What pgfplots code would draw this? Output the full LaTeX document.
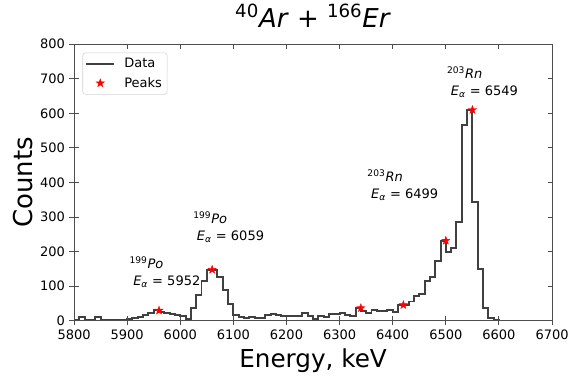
\documentclass[border=0pt]{standalone}
\usepackage{fontspec}
\setmainfont{DejaVu Sans}
\usepackage{pgfplots}
\pgfplotsset{compat=1.18}
\pgfdeclareplotmark{fstar}{%
  \pgfpathmoveto{\pgfpointpolar{90}{\pgfplotmarksize}}%
  \pgfpathlineto{\pgfpointpolar{126}{0.4*\pgfplotmarksize}}%
  \pgfpathlineto{\pgfpointpolar{162}{\pgfplotmarksize}}%
  \pgfpathlineto{\pgfpointpolar{198}{0.4*\pgfplotmarksize}}%
  \pgfpathlineto{\pgfpointpolar{234}{\pgfplotmarksize}}%
  \pgfpathlineto{\pgfpointpolar{270}{0.4*\pgfplotmarksize}}%
  \pgfpathlineto{\pgfpointpolar{306}{\pgfplotmarksize}}%
  \pgfpathlineto{\pgfpointpolar{342}{0.4*\pgfplotmarksize}}%
  \pgfpathlineto{\pgfpointpolar{18}{\pgfplotmarksize}}%
  \pgfpathlineto{\pgfpointpolar{54}{0.4*\pgfplotmarksize}}%
  \pgfpathclose
  \pgfusepathqfillstroke
}
\definecolor{linegray}{HTML}{404040}
\definecolor{framegray}{HTML}{4D4D4D}
\pgfplotsset{
  dataleg/.style={legend image code/.code={\draw[linegray, line width=1.5pt] (0pt,0pt) -- (21.5pt,0pt);}},
  peakleg/.style={legend image code/.code={\draw[##1] plot coordinates {(10.75pt,0pt)};}},
}
\pgfplotstableread{
x y
5800 2
5810 2
5820 12
5830 2
5840 2
5850 12
5860 2
5870 2
5880 2
5890 2
5900 3
5910 5
5920 8
5930 12
5940 16
5950 22
5960 30
5970 26
5980 22
5990 19
6000 16
6010 13
6020 4
6030 38
6040 75
6050 115
6060 148
6070 146
6080 128
6090 88
6100 50
6110 17
6120 12
6130 8
6140 10
6150 7
6160 9
6170 18
6180 21
6190 18
6200 15
6210 13
6220 13
6230 14
6240 23
6250 13
6260 4
6270 13
6280 11
6290 21
6300 21
6310 23
6320 17
6330 13
6340 37
6350 28
6360 23
6370 31
6380 28
6390 28
6400 31
6410 25
6420 46
6430 46
6440 56
6450 71
6460 78
6470 116
6480 128
6490 172
6500 232
6510 200
6520 212
6530 286
6540 565
6550 610
6560 344
6570 150
6580 37
6590 7
6600 2
6610 1
6620 0
6630 1
6640 1
6650 0
6660 1
6670 1
6680 0
6690 1
6700 0
}\datatable
\pgfplotstableread{
x y
5960 30
6060 148
6340 37
6420 46
6500 232
6550 610
}\peaktable
\begin{document}
\begin{tikzpicture}
\pgfplotsset{
  common/.style={
    width=368pt, height=213pt, scale only axis,
    xmin=5800, xmax=6700, ymin=0, ymax=800,
    xtick={5800,5900,...,6700}, ytick={0,100,...,800},
    major tick length=3.5pt,
    axis line style={framegray, line width=0.8pt},
    tick style={framegray, line width=0.8pt},
  }
}
\begin{axis}[common,
  xtick pos=bottom, ytick pos=left, tick align=outside,
  ticklabel style={font=\fontsize{10}{12}\selectfont, text=black},
  /pgf/number format/assume math mode=true,
  /pgf/number format/1000 sep={},
  xlabel={Energy, keV},
  ylabel={Counts},
  xlabel style={at={(axis description cs:0.5,-0.169)}, anchor=base, font=\fontsize{19}{23}\selectfont},
  ylabel style={at={(axis description cs:-0.087,0.5)}, anchor=base, font=\fontsize{20}{24}\selectfont},
  title={\textsuperscript{40}\textit{Ar} + \textsuperscript{166}\textit{Er}},
  title style={at={(axis description cs:0.5,1.032)}, anchor=base, font=\fontsize{20}{24}\selectfont},
  legend style={at={(axis description cs:0,1)}, anchor=north west, xshift=6.5pt, yshift=-6.5pt,
    draw=black!18, rounded corners=2pt, fill=white, font=\fontsize{10}{12}\selectfont,
    inner xsep=2pt, inner ysep=2pt, row sep=2pt, column sep=5pt},
  legend cell align=left,
]
\addplot[const plot mark right, linegray, line width=1.5pt, mark=none, dataleg]
  table[x=x,y=y] {\datatable};
\addlegendentry{Data}
\addplot[only marks, mark=fstar, mark size=3.3pt, mark options={fill=red, draw=red, line width=0.3pt}, peakleg]
  table[x=x,y=y] {\peaktable};
\addlegendentry{Peaks}
\begin{scope}[every node/.style={anchor=base west, inner sep=0pt, font=\fontsize{10}{12}\selectfont}]
\node at (axis cs:5904,152) {\textsuperscript{199}\textit{Po}};
\node at (axis cs:5911,102) {\textit{E}\textsubscript{\textit{α}} = 5952};
\node at (axis cs:6024,282) {\textsuperscript{199}\textit{Po}};
\node at (axis cs:6031,232) {\textit{E}\textsubscript{\textit{α}} = 6059};
\node at (axis cs:6352,404) {\textsuperscript{203}\textit{Rn}};
\node at (axis cs:6359,354) {\textit{E}\textsubscript{\textit{α}} = 6499};
\node at (axis cs:6502,702) {\textsuperscript{203}\textit{Rn}};
\node at (axis cs:6509,652) {\textit{E}\textsubscript{\textit{α}} = 6549};
\end{scope}
\end{axis}
\begin{axis}[common,
  xtick pos=both, ytick pos=both, tick align=inside,
  xticklabels={}, yticklabels={},
]
\end{axis}
\pgfresetboundingbox
\path[use as bounding box] (current axis.south west) ++(-57pt,-44.6pt) rectangle ([xshift=13.8pt,yshift=34pt]current axis.north east);
\end{tikzpicture}
\end{document}
